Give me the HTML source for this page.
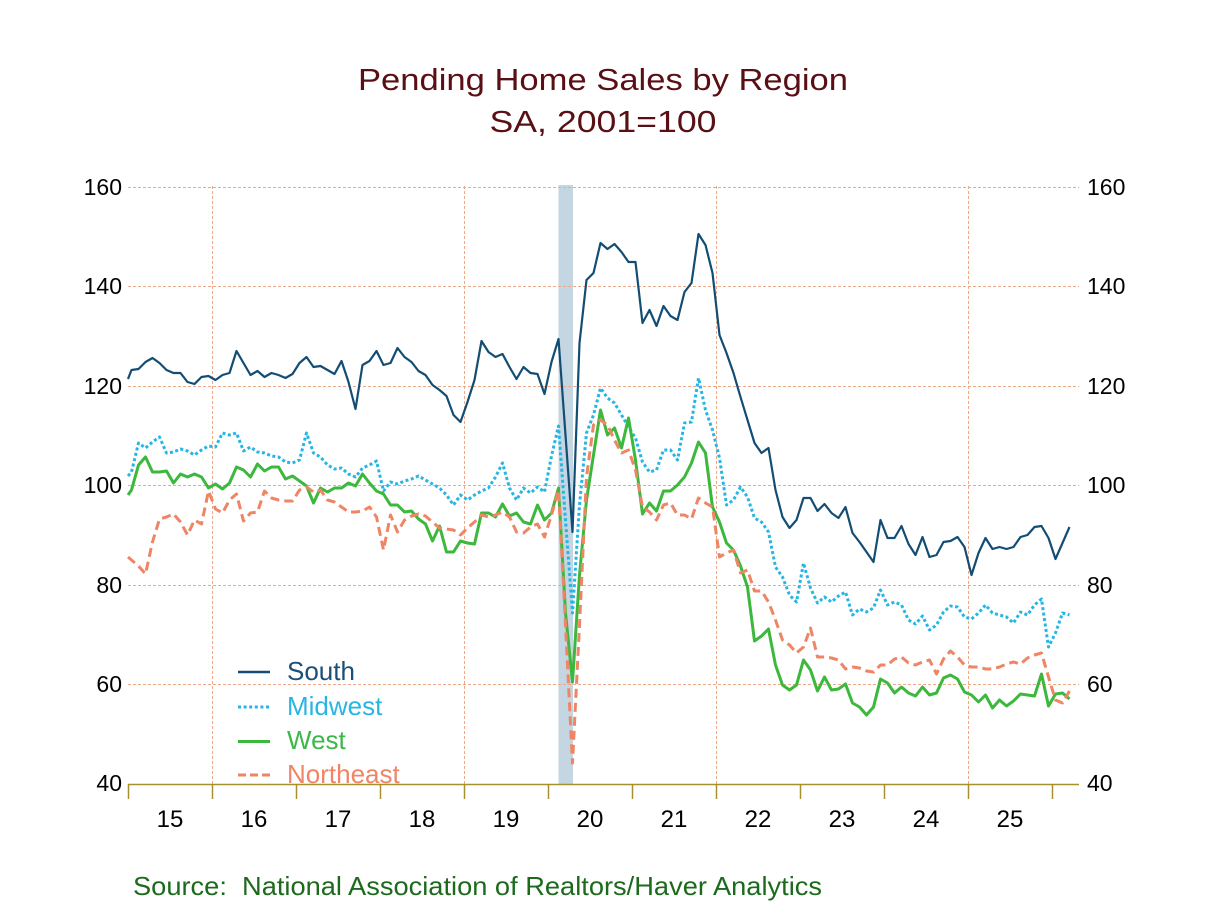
<!DOCTYPE html>
<html><head><meta charset="utf-8"><style>
html,body{margin:0;padding:0;background:#fff;}
svg{display:block;}
</style></head><body>
<svg width="1208" height="906" viewBox="0 0 1208 906" xmlns="http://www.w3.org/2000/svg">
<rect width="1208" height="906" fill="#fff"/>
<!-- title -->
<text x="603" y="90" text-anchor="middle" font-family="Liberation Sans, Arial, sans-serif" font-size="31" fill="#5a0f14" textLength="490" lengthAdjust="spacingAndGlyphs">Pending Home Sales by Region</text>
<text x="603" y="132" text-anchor="middle" font-family="Liberation Sans, Arial, sans-serif" font-size="31" fill="#5a0f14" textLength="227" lengthAdjust="spacingAndGlyphs">SA, 2001=100</text>
<!-- recession -->
<rect x="558.5" y="185" width="14.5" height="599" fill="#c4d6e1"/>
<!-- grid -->
<g stroke="#eeaa88" stroke-width="1" stroke-dasharray="3,2" fill="none">
<line x1="128" y1="187.5" x2="1079" y2="187.5"/>
<line x1="128" y1="286.5" x2="1079" y2="286.5"/>
<line x1="128" y1="386.5" x2="1079" y2="386.5"/>
<line x1="128" y1="485.5" x2="1079" y2="485.5"/>
<line x1="128" y1="585.5" x2="1079" y2="585.5"/>
<line x1="128" y1="684.5" x2="1079" y2="684.5"/>
<line x1="212.5" y1="186" x2="212.5" y2="784"/>
<line x1="464.5" y1="186" x2="464.5" y2="784"/>
<line x1="716.5" y1="186" x2="716.5" y2="784"/>
<line x1="968.5" y1="186" x2="968.5" y2="784"/>
</g>
<!-- axis -->
<g stroke="#a8902c" stroke-width="1.5">
<line x1="128" y1="784.5" x2="1079" y2="784.5"/>
<line x1="128.5" y1="784" x2="128.5" y2="799"/>
<line x1="212.5" y1="784" x2="212.5" y2="799"/>
<line x1="296.5" y1="784" x2="296.5" y2="799"/>
<line x1="380.5" y1="784" x2="380.5" y2="799"/>
<line x1="464.5" y1="784" x2="464.5" y2="799"/>
<line x1="548.5" y1="784" x2="548.5" y2="799"/>
<line x1="632.5" y1="784" x2="632.5" y2="799"/>
<line x1="716.5" y1="784" x2="716.5" y2="799"/>
<line x1="800.5" y1="784" x2="800.5" y2="799"/>
<line x1="884.5" y1="784" x2="884.5" y2="799"/>
<line x1="968.5" y1="784" x2="968.5" y2="799"/>
<line x1="1052.5" y1="784" x2="1052.5" y2="799"/>
</g>
<!-- y labels -->
<g font-family="Liberation Sans, Arial, sans-serif" font-size="23" fill="#000">
<g text-anchor="end">
<text x="122" y="195">160</text>
<text x="122" y="294">140</text>
<text x="122" y="394">120</text>
<text x="122" y="493">100</text>
<text x="122" y="593">80</text>
<text x="122" y="692">60</text>
<text x="122" y="791">40</text>
</g>
<g text-anchor="start">
<text x="1087" y="195">160</text>
<text x="1087" y="294">140</text>
<text x="1087" y="394">120</text>
<text x="1087" y="493">100</text>
<text x="1087" y="593">80</text>
<text x="1087" y="692">60</text>
<text x="1087" y="791">40</text>
</g>
</g>
<!-- x labels -->
<g font-family="Liberation Sans, Arial, sans-serif" font-size="24" fill="#000" text-anchor="middle">
<text x="170" y="827">15</text>
<text x="254" y="827">16</text>
<text x="338" y="827">17</text>
<text x="422" y="827">18</text>
<text x="506" y="827">19</text>
<text x="590" y="827">20</text>
<text x="674" y="827">21</text>
<text x="758" y="827">22</text>
<text x="842" y="827">23</text>
<text x="926" y="827">24</text>
<text x="1010" y="827">25</text>
</g>
<!-- series -->
<g fill="none" stroke-linejoin="round">
<polyline stroke="#134d73" stroke-width="2.2" points="128,379 131.5,370 138.5,369 145.5,362 152.5,358 159.5,363 166.5,370 173.5,373 180.5,373 187.5,382 194.5,384 201.5,377 208.5,376 215.5,380 222.5,375 229.5,373 236.5,351 243.5,363 250.5,375 257.5,371 264.5,377 271.5,373 278.5,375 285.5,378 292.5,374 299.5,363 306.5,357 313.5,367 320.5,366 327.5,370 334.5,374 341.5,361 348.5,382 355.5,409 362.5,365 369.5,361 376.5,351 383.5,365 390.5,363 397.5,348 404.5,357 411.5,362 418.5,371 425.5,375 432.5,385 439.5,390 446.5,396 453.5,415 460.5,422 467.5,402 474.5,380 481.5,341 488.5,352 495.5,357 502.5,354 509.5,367 516.5,379 523.5,367 530.5,373 537.5,374 544.5,394 551.5,362 558.5,339 565.5,435 572.5,532 579.5,343 586.5,280 593.5,273 600.5,243 607.5,249 614.5,244 621.5,252 628.5,262 635.5,262 642.5,323 649.5,310 656.5,326 663.5,306 670.5,316 677.5,320 684.5,292 691.5,283 698.5,234 705.5,245 712.5,273 719.5,335 726.5,353 733.5,373 740.5,397 747.5,420 754.5,443 761.5,453 768.5,448 775.5,490 782.5,517 789.5,528 796.5,520 803.5,498 810.5,498 817.5,511 824.5,504 831.5,513 838.5,518 845.5,507 852.5,533 859.5,542 866.5,552 873.5,562 880.5,520 887.5,538 894.5,538 901.5,526 908.5,544 915.5,555 922.5,537 929.5,557 936.5,555 943.5,542 950.5,541 957.5,537 964.5,547 971.5,575 978.5,553 985.5,538 992.5,549 999.5,547 1006.5,549 1013.5,547 1020.5,537 1027.5,535 1034.5,527 1041.5,526 1048.5,538 1055.5,559 1062.5,543 1069.5,527"/>
<polyline stroke="#27b5e5" stroke-width="3" stroke-dasharray="3,2.5" points="128,476 131.5,472 138.5,443 145.5,448 152.5,442 159.5,437 166.5,453 173.5,452 180.5,449 187.5,451 194.5,455 201.5,450 208.5,446 215.5,447 222.5,433 229.5,435 236.5,433 243.5,451 250.5,447 257.5,452 264.5,453 271.5,456 278.5,457 285.5,462 292.5,463 299.5,460 306.5,433 313.5,453 320.5,457 327.5,465 334.5,469 341.5,468 348.5,474 355.5,477 362.5,468 369.5,465 376.5,461 383.5,491 390.5,482 397.5,484 404.5,481 411.5,479 418.5,476 425.5,480 432.5,484 439.5,488 446.5,495 453.5,505 460.5,495 467.5,500 474.5,495 481.5,491 488.5,488 495.5,477 502.5,463 509.5,488 516.5,500 523.5,488 530.5,493 537.5,487 544.5,492 551.5,456 558.5,426 565.5,520 572.5,613 579.5,505 586.5,433 593.5,415 600.5,388 607.5,398 614.5,403 621.5,415 628.5,427 635.5,438 642.5,462 649.5,472 656.5,470 663.5,450 670.5,450 677.5,460 684.5,423 691.5,422 698.5,378 705.5,410 712.5,430 719.5,458 726.5,505 733.5,500 740.5,487 747.5,497 754.5,518 761.5,522 768.5,532 775.5,567 782.5,577 789.5,595 796.5,602 803.5,563 810.5,588 817.5,603 824.5,597 831.5,602 838.5,596 845.5,592 852.5,615 859.5,609 866.5,612 873.5,608 880.5,590 887.5,605 894.5,602 901.5,605 908.5,620 915.5,624 922.5,616 929.5,630 936.5,625 943.5,612 950.5,606 957.5,607 964.5,617 971.5,619 978.5,613 985.5,605 992.5,613 999.5,615 1006.5,617 1013.5,623 1020.5,612 1027.5,615 1034.5,605 1041.5,599 1048.5,647 1055.5,633 1062.5,613 1069.5,615"/>
<polyline stroke="#3cb83c" stroke-width="3" points="128,495 131.5,490 138.5,465 145.5,457 152.5,472 159.5,472 166.5,471 173.5,483 180.5,474 187.5,477 194.5,474 201.5,477 208.5,488 215.5,484 222.5,489 229.5,483 236.5,467 243.5,470 250.5,477 257.5,464 264.5,471 271.5,467 278.5,467 285.5,479 292.5,476 299.5,481 306.5,486 313.5,503 320.5,488 327.5,492 334.5,488 341.5,488 348.5,483 355.5,486 362.5,474 369.5,483 376.5,491 383.5,494 390.5,505 397.5,505 404.5,512 411.5,511 418.5,519 425.5,524 432.5,541 439.5,526 446.5,552 453.5,552 460.5,541 467.5,543 474.5,544 481.5,513 488.5,513 495.5,517 502.5,504 509.5,516 516.5,513 523.5,522 530.5,524 537.5,505 544.5,520 551.5,513 558.5,488 565.5,613 572.5,682 579.5,575 586.5,500 593.5,455 600.5,410 607.5,435 614.5,428 621.5,448 628.5,418 635.5,460 642.5,514 649.5,503 656.5,511 663.5,491 670.5,491 677.5,485 684.5,477 691.5,463 698.5,442 705.5,453 712.5,507 719.5,522 726.5,543 733.5,550 740.5,566 747.5,587 754.5,641 761.5,636 768.5,629 775.5,665 782.5,685 789.5,690 796.5,685 803.5,660 810.5,670 817.5,691 824.5,677 831.5,690 838.5,689 845.5,684 852.5,703 859.5,707 866.5,715 873.5,707 880.5,679 887.5,683 894.5,693 901.5,687 908.5,693 915.5,696 922.5,687 929.5,695 936.5,693 943.5,678 950.5,675 957.5,679 964.5,692 971.5,695 978.5,702 985.5,695 992.5,708 999.5,700 1006.5,706 1013.5,701 1020.5,694 1027.5,695 1034.5,696 1041.5,674 1048.5,706 1055.5,694 1062.5,693 1069.5,699"/>
<polyline stroke="#ee8564" stroke-width="3" stroke-dasharray="9,5" points="128,557 131.5,560 138.5,566 145.5,574 152.5,542 159.5,519 166.5,517 173.5,514 180.5,522 187.5,535 194.5,520 201.5,524 208.5,491 215.5,509 222.5,513 229.5,500 236.5,494 243.5,521 250.5,513 257.5,512 264.5,491 271.5,498 278.5,500 285.5,501 292.5,501 299.5,490 306.5,487 313.5,492 320.5,490 327.5,500 334.5,502 341.5,507 348.5,512 355.5,512 362.5,511 369.5,507 376.5,517 383.5,550 390.5,515 397.5,532 404.5,520 411.5,516 418.5,514 425.5,516 432.5,522 439.5,528 446.5,529 453.5,530 460.5,535 467.5,528 474.5,522 481.5,515 488.5,517 495.5,515 502.5,512 509.5,517 516.5,532 523.5,533 530.5,527 537.5,524 544.5,537 551.5,515 558.5,490 565.5,625 572.5,763 579.5,625 586.5,477 593.5,425 600.5,420 607.5,425 614.5,440 621.5,453 628.5,450 635.5,470 642.5,507 649.5,512 656.5,520 663.5,505 670.5,503 677.5,515 684.5,515 691.5,519 698.5,498 705.5,503 712.5,507 719.5,557 726.5,553 733.5,550 740.5,573 747.5,570 754.5,591 761.5,591 768.5,602 775.5,620 782.5,640 789.5,645 796.5,653 803.5,647 810.5,628 817.5,657 824.5,657 831.5,658 838.5,660 845.5,669 852.5,667 859.5,668 866.5,671 873.5,672 880.5,665 887.5,665 894.5,659 901.5,657 908.5,663 915.5,665 922.5,662 929.5,660 936.5,674 943.5,659 950.5,651 957.5,657 964.5,665 971.5,667 978.5,667 985.5,669 992.5,669 999.5,667 1006.5,664 1013.5,662 1020.5,664 1027.5,658 1034.5,655 1041.5,653 1048.5,677 1055.5,700 1062.5,703 1069.5,691"/>
</g>
<!-- legend -->
<g fill="none">
<line x1="238" y1="672" x2="270" y2="672" stroke="#134d73" stroke-width="2.5"/>
<line x1="238" y1="707" x2="270" y2="707" stroke="#27b5e5" stroke-width="3" stroke-dasharray="3,2.6"/>
<line x1="238" y1="741.5" x2="270" y2="741.5" stroke="#3cb83c" stroke-width="3"/>
<line x1="238" y1="775" x2="270" y2="775" stroke="#ee8564" stroke-width="3" stroke-dasharray="8,4"/>
</g>
<g font-family="Liberation Sans, Arial, sans-serif" font-size="26">
<text x="287" y="680" fill="#1a4f78">South</text>
<text x="287" y="715" fill="#29b5e3">Midwest</text>
<text x="287" y="749" fill="#3cb84a">West</text>
<text x="287" y="783" fill="#f08566">Northeast</text>
</g>
<!-- source -->
<text x="133" y="895" font-family="Liberation Sans, Arial, sans-serif" font-size="26" fill="#1c6a1c" style="white-space:pre" textLength="689" lengthAdjust="spacingAndGlyphs">Source:  National Association of Realtors/Haver Analytics</text>
</svg>
</body></html>
